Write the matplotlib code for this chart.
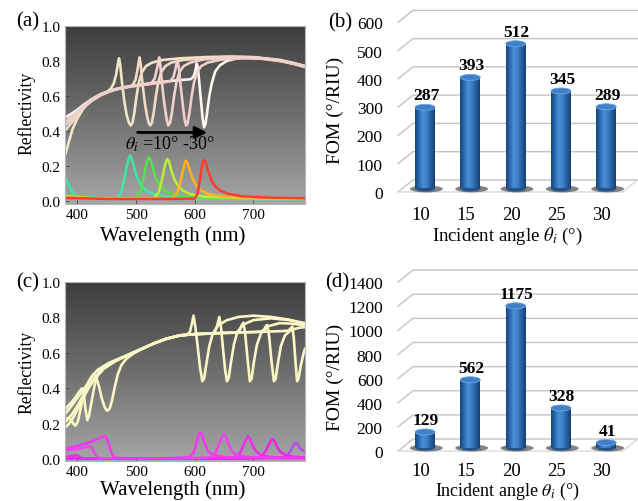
import numpy as np
import matplotlib
matplotlib.use('Agg')
import matplotlib.pyplot as plt
from matplotlib.colors import LinearSegmentedColormap
from matplotlib.patches import Ellipse

plt.rcParams['font.family'] = ['Liberation Serif', 'DejaVu Serif']
plt.rcParams['mathtext.fontset'] = 'stix'

# ---- data (wavelength nm, reflectivity) ----
# panel (a): reflectivity for theta_i = 10..30 deg
a_white_10 = [(379, 0.26), (385, 0.33), (392, 0.41), (400, 0.47), (410, 0.525), (420, 0.565), (430, 0.59),
              (440, 0.607), (450, 0.622), (457, 0.64), (462, 0.67), (466, 0.72), (469, 0.78), (471, 0.815),
              (473, 0.78), (476, 0.68), (480, 0.57), (484, 0.49), (488, 0.445), (491, 0.43), (494, 0.445),
              (497, 0.5), (501, 0.6), (505, 0.68), (510, 0.735), (517, 0.77), (527, 0.79), (545, 0.805),
              (575, 0.815), (620, 0.822), (660, 0.825), (700, 0.822), (745, 0.806), (770, 0.787), (788, 0.77)]
a_white_15 = [(379, 0.40), (390, 0.445), (400, 0.49), (412, 0.535), (425, 0.572), (440, 0.603), (455, 0.625),
              (470, 0.64), (485, 0.65), (494, 0.66), (499, 0.69), (502, 0.74), (504.5, 0.79), (506, 0.82),
              (508, 0.78), (511, 0.67), (515, 0.56), (519, 0.48), (522, 0.44), (524.5, 0.43), (527, 0.445),
              (530, 0.5), (534, 0.6), (538, 0.68), (543, 0.735), (550, 0.77), (560, 0.79), (580, 0.805),
              (620, 0.818), (660, 0.823), (700, 0.82), (745, 0.803), (770, 0.785), (788, 0.77)]
a_white_20 = [(379, 0.43), (390, 0.465), (400, 0.5), (412, 0.54), (425, 0.575), (440, 0.605), (460, 0.632),
              (480, 0.647), (500, 0.657), (520, 0.666), (527, 0.675), (532, 0.7), (535, 0.745), (538, 0.79),
              (539.5, 0.82), (541, 0.79), (544, 0.68), (548, 0.56), (552, 0.47), (555, 0.43), (558, 0.445),
              (561, 0.5), (565, 0.6), (569, 0.68), (574, 0.735), (581, 0.77), (592, 0.79), (615, 0.808),
              (650, 0.818), (700, 0.818), (745, 0.8), (770, 0.782), (788, 0.765)]
a_white_25 = [(379, 0.45), (390, 0.48), (400, 0.51), (412, 0.545), (425, 0.578), (440, 0.607), (460, 0.633),
              (480, 0.648), (500, 0.658), (525, 0.668), (550, 0.678), (559, 0.685), (564, 0.71), (567, 0.75),
              (569.5, 0.79), (571, 0.80), (573, 0.76), (576, 0.66), (580, 0.54), (583, 0.46), (585.5, 0.43),
              (588, 0.445), (591, 0.5), (595, 0.6), (599, 0.68), (604, 0.735), (611, 0.77), (622, 0.79),
              (645, 0.807), (680, 0.815), (720, 0.812), (750, 0.797), (770, 0.782), (788, 0.765)]
a_white_30 = [(379, 0.475), (390, 0.497), (400, 0.52), (412, 0.552), (425, 0.582), (440, 0.61), (460, 0.635),
              (480, 0.65), (500, 0.66), (525, 0.672), (550, 0.682), (575, 0.69), (593, 0.695), (598, 0.71),
              (601, 0.74), (603.5, 0.785), (605.5, 0.76), (608, 0.67), (611, 0.56), (613.5, 0.47), (616, 0.42),
              (618.5, 0.44), (621, 0.5), (625, 0.6), (629, 0.67), (635, 0.74), (643, 0.775), (655, 0.8),
              (675, 0.817), (700, 0.82), (740, 0.805), (765, 0.788), (788, 0.77)]

a_abs_10 = [(379, 0.135), (383, 0.105), (388, 0.07), (393, 0.042), (399, 0.025), (410, 0.014), (440, 0.009),
            (468, 0.01), (475, 0.05), (480, 0.12), (484, 0.19), (487, 0.235), (490, 0.258), (493, 0.24),
            (497, 0.185), (502, 0.13), (508, 0.09), (516, 0.06), (530, 0.037), (555, 0.02), (600, 0.012),
            (700, 0.008), (788, 0.006)]
a_abs_15 = [(379, 0.03), (400, 0.02), (440, 0.013), (499, 0.012), (507, 0.05), (512, 0.12), (516, 0.185),
            (519, 0.228), (522, 0.248), (525, 0.232), (529, 0.18), (534, 0.127), (540, 0.088), (548, 0.058),
            (562, 0.036), (587, 0.021), (640, 0.013), (788, 0.008)]
a_abs_20 = [(379, 0.025), (420, 0.014), (480, 0.01), (531, 0.012), (539, 0.05), (544, 0.115), (548, 0.18),
            (551, 0.22), (553.5, 0.238), (556.5, 0.222), (560, 0.175), (565, 0.124), (571, 0.087), (579, 0.058),
            (593, 0.036), (618, 0.022), (680, 0.014), (788, 0.01)]
a_abs_25 = [(379, 0.02), (450, 0.01), (563, 0.012), (571, 0.05), (576, 0.11), (580, 0.172), (583, 0.212),
            (585, 0.229), (588, 0.213), (592, 0.168), (597, 0.12), (603, 0.085), (611, 0.057), (625, 0.036),
            (650, 0.022), (710, 0.014), (788, 0.011)]
a_abs_30 = [(379, 0.015), (450, 0.009), (560, 0.009), (600, 0.011), (605, 0.04), (609, 0.12), (612, 0.19),
            (614, 0.225), (616, 0.232), (619, 0.215), (623, 0.168), (628, 0.12), (634, 0.085), (643, 0.058),
            (657, 0.038), (682, 0.024), (730, 0.016), (788, 0.013)]

# panel (c)
c_white_10 = [(379, 0.255), (390, 0.30), (400, 0.345), (410, 0.39), (418, 0.43), (424, 0.46), (428, 0.478),
              (432, 0.465), (437, 0.41), (442, 0.34), (447, 0.29), (451, 0.273), (455, 0.285), (459, 0.33),
              (464, 0.41), (469, 0.48), (475, 0.53), (483, 0.565), (495, 0.595), (510, 0.622), (530, 0.652),
              (550, 0.677), (570, 0.695), (587, 0.703), (592, 0.72), (595, 0.76), (598, 0.81), (601, 0.75),
              (605, 0.64), (609, 0.52), (613, 0.44), (616, 0.455), (620, 0.54), (625, 0.64), (631, 0.71),
              (640, 0.755), (655, 0.785), (675, 0.803), (700, 0.81), (730, 0.803), (760, 0.788), (788, 0.765)]
c_white_15 = [(379, 0.283), (390, 0.32), (398, 0.355), (404, 0.385), (408, 0.4), (411, 0.37), (414, 0.28),
              (417, 0.22), (420, 0.245), (424, 0.32), (429, 0.41), (435, 0.48), (443, 0.52), (455, 0.545),
              (470, 0.566), (490, 0.594), (510, 0.623), (530, 0.653), (550, 0.678), (575, 0.698), (600, 0.705),
              (628, 0.709), (634, 0.715), (638, 0.75), (642, 0.803), (645, 0.74), (649, 0.6), (652, 0.5),
              (655, 0.44), (658, 0.46), (662, 0.55), (667, 0.65), (673, 0.72), (683, 0.76), (700, 0.785),
              (730, 0.795), (760, 0.785), (788, 0.768)]
c_white_20 = [(379, 0.226), (385, 0.233), (390, 0.22), (394, 0.197), (397, 0.19), (401, 0.215), (406, 0.29),
              (412, 0.38), (418, 0.43), (425, 0.47), (435, 0.505), (450, 0.535), (470, 0.565), (490, 0.594),
              (510, 0.623), (530, 0.653), (550, 0.678), (575, 0.699), (600, 0.706), (650, 0.712), (672, 0.714),
              (677, 0.73), (680, 0.755), (683, 0.77), (686, 0.71), (690, 0.57), (694, 0.44), (697, 0.455),
              (701, 0.55), (706, 0.645), (713, 0.71), (725, 0.75), (745, 0.768), (765, 0.765), (788, 0.755)]
c_white_25 = [(379, 0.208), (390, 0.25), (400, 0.3), (410, 0.36), (420, 0.415), (430, 0.46), (445, 0.515),
              (465, 0.555), (490, 0.594), (510, 0.623), (530, 0.653), (550, 0.678), (575, 0.699), (600, 0.706),
              (650, 0.713), (700, 0.717), (714, 0.72), (719, 0.735), (722, 0.755), (724, 0.757), (727, 0.69),
              (731, 0.55), (735, 0.44), (738, 0.455), (742, 0.545), (747, 0.64), (754, 0.7), (765, 0.73),
              (778, 0.742), (788, 0.745)]
c_white_30 = [(379, 0.179), (386, 0.2), (393, 0.235), (400, 0.28), (410, 0.345), (420, 0.405), (430, 0.455),
              (445, 0.51), (465, 0.553), (490, 0.594), (510, 0.623), (530, 0.653), (550, 0.678), (575, 0.699),
              (600, 0.706), (650, 0.713), (700, 0.718), (750, 0.723), (760, 0.726), (764, 0.74), (766.5, 0.748),
              (769, 0.68), (772, 0.54), (774.5, 0.44), (777, 0.455), (781, 0.53), (785, 0.59), (788, 0.625)]

c_abs_10 = [(379, 0.058), (400, 0.075), (420, 0.095), (435, 0.115), (443, 0.127), (447, 0.13), (451, 0.11),
            (455, 0.07), (459, 0.03), (464, 0.008), (500, 0.004), (560, 0.006), (590, 0.012), (598, 0.035),
            (603, 0.09), (607, 0.14), (610, 0.151), (613, 0.135), (617, 0.09), (622, 0.05), (630, 0.025),
            (650, 0.012), (700, 0.007), (788, 0.005)]
c_abs_15 = [(379, 0.05), (400, 0.058), (412, 0.066), (419, 0.072), (423, 0.07), (427, 0.05), (432, 0.02),
            (437, 0.006), (500, 0.003), (600, 0.006), (628, 0.012), (636, 0.04), (642, 0.09), (647, 0.13),
            (650, 0.142), (653, 0.128), (657, 0.09), (662, 0.05), (670, 0.025), (690, 0.012), (788, 0.006)]
c_abs_20 = [(379, 0.012), (390, 0.018), (397, 0.023), (400, 0.022), (404, 0.012), (410, 0.004), (500, 0.002),
            (650, 0.005), (670, 0.012), (678, 0.04), (684, 0.085), (688, 0.115), (691, 0.128), (694, 0.116),
            (698, 0.085), (703, 0.05), (712, 0.025), (730, 0.012), (788, 0.007)]
c_abs_25 = [(379, 0.008), (420, 0.003), (600, 0.003), (700, 0.005), (712, 0.012), (720, 0.04), (726, 0.08),
            (730, 0.105), (733, 0.113), (736, 0.103), (740, 0.075), (745, 0.045), (755, 0.022), (770, 0.013),
            (788, 0.01)]
c_abs_30 = [(379, 0.003), (700, 0.004), (755, 0.012), (762, 0.04), (768, 0.075), (772, 0.094), (775, 0.088),
            (779, 0.065), (784, 0.05), (788, 0.045)]

# panels (b) and (d): FOM vs incident angle
angles = ['10', '15', '20', '25', '30']
fom_b = [287, 393, 512, 345, 289]
fom_d = [129, 562, 1175, 328, 41]

W, H = 638, 502


def box(left, top, right, bottom):
    return [left / W, 1 - bottom / H, (right - left) / W, (bottom - top) / H]


fig = plt.figure(figsize=(W / 100, H / 100), dpi=100)

bg_cmap = LinearSegmentedColormap.from_list('bg', ['#3d3d3d', '#6e6e6e', '#a6a6a6'])


def spectrum_axes(rect, ylim):
    ax = fig.add_axes(rect)
    ax.imshow(np.linspace(0, 1, 256).reshape(-1, 1), cmap=bg_cmap, aspect='auto',
              extent=[379, 788, ylim[0], ylim[1]], origin='upper', zorder=0)
    ax.set_xlim(379, 788)
    ax.set_ylim(*ylim)
    ax.set_xticks([400, 500, 600, 700])
    ax.set_yticks([0, 0.2, 0.4, 0.6, 0.8, 1.0])
    ax.set_yticklabels(['0.0', '0.2', '0.4', '0.6', '0.8', '1.0'])
    ax.tick_params(direction='in', length=3, width=0.6, color='#444444', labelsize=11, pad=3)
    for s in ax.spines.values():
        s.set_color('#b5b5b5')
        s.set_linewidth(0.8)
    return ax


def draw(ax, pts, color, lw):
    p = np.array(pts)
    ax.plot(p[:, 0], p[:, 1], color=color, lw=lw, solid_joinstyle='round', solid_capstyle='round', zorder=2)


# ---- (a) ----
ax_a = spectrum_axes(box(65, 27, 305, 205), (-0.02, 1.0))
for pts, col in [(a_white_30, '#fbf6ef'), (a_white_10, '#f3e6c6'), (a_white_15, '#f2dac8'),
                 (a_white_20, '#f1d2cc'), (a_white_25, '#f0cfcb')]:
    draw(ax_a, pts, col, 1.9)
for pts, col in [(a_abs_10, '#3ee8a4'), (a_abs_15, '#55e34c'), (a_abs_20, '#b9ef35'),
                 (a_abs_25, '#ffb224'), (a_abs_30, '#ff3b30')]:
    draw(ax_a, pts, col, 1.8)
ax_a.annotate('', xy=(626, 0.39), xytext=(498, 0.39),
              arrowprops=dict(arrowstyle='-|>', lw=2, color='black', mutation_scale=18))
ax_a.text(481, 0.325, r'$\theta_i$ =10° -30°', fontsize=13, ha='left', va='center')

# ---- (c) ----
ax_c = spectrum_axes(box(65, 283, 305, 462), (-0.01, 1.0))
for pts in [c_white_10, c_white_15, c_white_20, c_white_25, c_white_30]:
    draw(ax_c, pts, '#fbf6c6', 1.9)
for pts, col in [(c_abs_30, '#b050f0'), (c_abs_25, '#ee22e8'), (c_abs_20, '#f02af0'),
                 (c_abs_15, '#f040f0'), (c_abs_10, '#f236f2')]:
    draw(ax_c, pts, col, 1.8)

for yc in (236, 490):
    fig.text(173 / W, 1 - yc / H, 'Wavelength (nm)', fontsize=15, ha='center', va='center')
for yc in (113, 372):
    fig.text(27 / W, 1 - yc / H, 'Reflectivity', fontsize=12.7, rotation=90, ha='center', va='center')

# ---- (b), (d) cylinder bars ----
cyl = LinearSegmentedColormap.from_list('cyl', ['#1a447a', '#2c6aae', '#4b8fd6', '#3c7ec4',
                                                '#275d9f', '#17406f'])
x_left, x_right = -0.596, 4.70
slant = 0.33
bw = 0.44


def bar_axes(rect, vals, ylim, yticks, px_per_unit, xpad):
    ax = fig.add_axes(rect)
    depth = 12.0 / px_per_unit
    mid = 3.5 / px_per_unit
    eh = 6.0 / px_per_unit
    gc = '#c4c4c4'
    for v in yticks:
        ax.plot([x_left, x_left + slant, x_right], [v, v + depth, v + depth], color=gc, lw=1.0, zorder=1,
                clip_on=False)
    ax.plot([x_left, 4.36, 4.36 + slant], [0, 0, depth], color='#d8d8d8', lw=1.0, zorder=1)
    grad = np.linspace(0, 1, 64).reshape(1, -1)
    for i, v in enumerate(vals):
        base, top = mid, v + mid
        ax.add_patch(Ellipse((i + 0.03, base - 0.5 / px_per_unit), bw * 1.65, eh * 1.15, facecolor='#303030',
                             alpha=0.6, edgecolor='none', zorder=2))
        ax.add_patch(Ellipse((i, base), bw, eh, facecolor='#22528c', edgecolor='none', zorder=2.9))
        ax.imshow(grad, cmap=cyl, aspect='auto', extent=[i - bw / 2, i + bw / 2, base, top], zorder=3)
        ax.add_patch(Ellipse((i, top), bw, eh, facecolor='#3f80c8', edgecolor='#6ea8e4', lw=0.6, zorder=4))
        ax.text(i + 0.02, top + 12.0 / px_per_unit, str(v), ha='center', va='center', fontsize=12.5,
                fontweight='bold', zorder=5)
    ax.set_xlim(x_left, x_right)
    ax.set_ylim(*ylim)
    ax.set_yticks(yticks)
    ax.set_xticks([i - 0.1 for i in range(5)])
    ax.set_xticklabels(angles)
    ax.tick_params(axis='y', length=0, pad=11, labelsize=12.5)
    ax.tick_params(axis='x', length=0, pad=xpad, labelsize=13.5)
    for s in ax.spines.values():
        s.set_visible(False)
    return ax


ax_b = bar_axes(box(398, 6.4, 638, 200), fom_b, (-25, 660), list(range(0, 601, 100)), 0.2828, 5)
ax_d = bar_axes(box(398, 265, 638, 460), fom_d, (-66, 1550), list(range(0, 1401, 200)), 0.1207, 2.5)

for yc in (110, 377):
    fig.text(335 / W, 1 - yc / H, 'FOM (°/RIU)', fontsize=14, rotation=90, ha='center', va='center')
fig.text(507 / W, 1 - 236 / H, r'Incident angle $\theta_i$ (°)', fontsize=13.5, ha='center', va='center')
fig.text(507 / W, 1 - 491 / H, r'Incident angle $\theta_i$ (°)', fontsize=13, ha='center', va='center')

for lab, xc, yc in [('(a)', 28, 22), ('(b)', 340, 23), ('(c)', 28, 283), ('(d)', 337, 283)]:
    fig.text(xc / W, 1 - yc / H, lab, fontsize=15, ha='center', va='center')

fig.savefig('out.png', dpi=100)
